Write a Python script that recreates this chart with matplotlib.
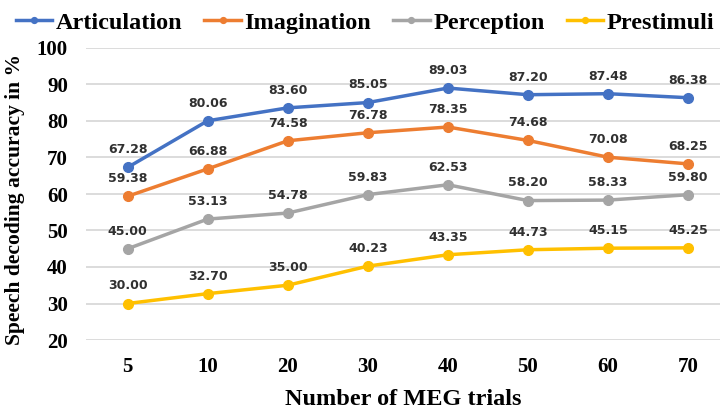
import matplotlib.pyplot as plt
import numpy as np

trials = ['5', '10', '20', '30', '40', '50', '60', '70']
articulation = [67.28, 80.06, 83.60, 85.05, 89.03, 87.20, 87.48, 86.38]
imagination = [59.38, 66.88, 74.58, 76.78, 78.35, 74.68, 70.08, 68.25]
perception = [45.00, 53.13, 54.78, 59.83, 62.53, 58.20, 58.33, 59.80]
prestimuli = [30.00, 32.70, 35.00, 40.23, 43.35, 44.73, 45.15, 45.25]

series = [
    ('Articulation', articulation, '#4472C4'),
    ('Imagination', imagination, '#ED7D31'),
    ('Perception', perception, '#A5A5A5'),
    ('Prestimuli', prestimuli, '#FFC000'),
]

serif = 'Liberation Serif'

fig = plt.figure(figsize=(7.2, 4.13), dpi=100)
ax = fig.add_axes([86 / 720, 1 - 340 / 413, 1 - 86 / 720, (340 - 48) / 413])

x = np.arange(len(trials))
for name, vals, color in series:
    ax.plot(x, vals, color=color, lw=2.5, marker='o', ms=7, label=name, zorder=3)
    for xi, v in zip(x, vals):
        ax.annotate(f'{v:.2f}', (xi, v), xytext=(0, 8), textcoords='offset points',
                    ha='center', va='bottom', fontsize=9, fontweight='bold',
                    color='#303030', family='DejaVu Sans')

ax.set_ylim(20, 100)
ax.set_yticks(range(20, 101, 10))
ax.set_xlim(-0.52, 7.4)
ax.set_xticks(x)
ax.set_xticklabels(trials)
ax.grid(axis='y', color='#D9D9D9', lw=1.3)
ax.set_axisbelow(True)
for s in ax.spines.values():
    s.set_visible(False)
ax.tick_params(axis='x', length=0, pad=12)
ax.tick_params(axis='y', length=0, pad=13)
for lab in ax.get_xticklabels() + ax.get_yticklabels():
    lab.set_family(serif)
    lab.set_fontweight('bold')
    lab.set_fontsize(15)

ax.set_xlabel('Number of MEG trials', family=serif, fontweight='bold', fontsize=17.5)
ax.xaxis.set_label_coords(0.5, -0.168)
ax.set_ylabel('Speech decoding accuracy in %', family=serif, fontweight='bold', fontsize=15.5)
ax.yaxis.set_label_coords(-0.096, 0.48)

fig.legend(loc='upper center', bbox_to_anchor=(0.507, 1.025), ncol=4, frameon=False,
           prop={'family': serif, 'weight': 'bold', 'size': 17.5},
           handlelength=1.5, handletextpad=0.15, columnspacing=0.9, markerscale=0.6)

fig.savefig('out.png', dpi=100)
